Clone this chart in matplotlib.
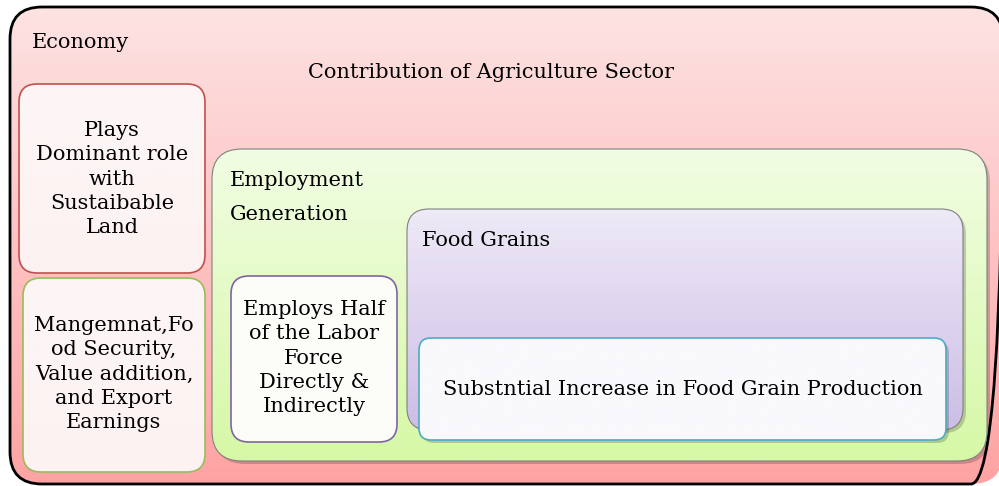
import numpy as np
import matplotlib.pyplot as plt
from matplotlib.patches import FancyBboxPatch
from matplotlib.colors import LinearSegmentedColormap
from matplotlib.transforms import Bbox

plt.rcParams['font.family'] = ['DejaVu Serif']

### TEXT CONTENT
outer_title = 'Economy'
outer_subtitle = 'Contribution of Agriculture Sector'
left_top_text = 'Plays\nDominant role\nwith\nSustaibable\nLand'
left_bottom_text = 'Mangemnat,Fo\nod Security,\nValue addition,\nand Export\nEarnings'
employ_title = ['Employment', 'Generation']
employ_text = 'Employs Half\nof the Labor\nForce\nDirectly &\nIndirectly'
grains_title = 'Food Grains'
grains_text = 'Substntial Increase in Food Grain Production'

FS = 15
LS = 1.35
W, H = 999, 486
CW = 1020  # draw on a wider canvas, crop to W when saving
fig = plt.figure(figsize=(CW/100, H/100), dpi=100)
ax = fig.add_axes([0, 0, 1, 1])
ax.set_xlim(0, CW)
ax.set_ylim(H, 0)
ax.axis('off')

def box(x0, y0, x1, y1, r, top, bottom, edge, lw=1.5, shadow=False, z=1):
    if shadow:
        sh = FancyBboxPatch((x0+3, y0+3), x1-x0, y1-y0,
                            boxstyle='round,pad=0,rounding_size=%d' % r,
                            fc='#00000030', ec='none', zorder=z)
        ax.add_patch(sh)
    p = FancyBboxPatch((x0, y0), x1-x0, y1-y0,
                       boxstyle='round,pad=0,rounding_size=%d' % r,
                       fc='none', ec=edge, lw=lw, zorder=z+0.2)
    ax.add_patch(p)
    cmap = LinearSegmentedColormap.from_list('g', [top, bottom])
    grad = np.linspace(0, 1, 256).reshape(-1, 1)
    im = ax.imshow(grad, cmap=cmap, extent=(x0, x1, y1, y0), aspect='auto',
                   zorder=z+0.1, interpolation='bilinear')
    im.set_clip_path(p)
    return p

### Outer Economy box
box(10, 7, 1003, 484, 32, '#fde3e3', '#ffa3a3', 'black', lw=2, z=1)
ax.set_xlim(0, CW)
ax.set_ylim(H, 0)
ax.text(32, 42, outer_title, fontsize=FS, va='center', ha='left', zorder=10)
ax.text(491, 73, outer_subtitle, fontsize=FS, va='center', ha='center', zorder=10)

### Left boxes
box(19, 84, 205, 273, 18, '#fdf6f6', '#fdf2f2', '#c0504d', lw=1.2, z=2)
ax.text(112, 179, left_top_text, fontsize=FS, va='center', ha='center',
        linespacing=LS, zorder=10)
box(23, 278, 205, 472, 18, '#fdf6f6', '#fdf2f2', '#9bbb59', lw=1.2, z=2)
ax.text(114, 374, left_bottom_text, fontsize=FS, va='center', ha='center',
        linespacing=LS, zorder=10)

### Employment box
box(212, 149, 987, 461, 30, '#f1fde3', '#d6f8a6', '#808080', lw=0.8, shadow=True, z=3)
ax.text(230, 180, employ_title[0], fontsize=FS, va='center', ha='left', zorder=10)
ax.text(230, 214, employ_title[1], fontsize=FS, va='center', ha='left', zorder=10)
box(231, 276, 397, 442, 18, '#fcfdf8', '#fcfdf8', '#8064a2', lw=1.2, z=4)
ax.text(314, 358, employ_text, fontsize=FS, va='center', ha='center',
        linespacing=LS, zorder=10)

### Food grains box
box(407, 209, 963, 430, 22, '#eeeaf7', '#cdbde6', '#808080', lw=0.8, shadow=True, z=5)
ax.text(422, 240, grains_title, fontsize=FS, va='center', ha='left', zorder=10)
box(419, 338, 946, 440, 12, '#f9f9fd', '#f9f9fd', '#4bacc6', lw=1.2, shadow=True, z=6)
ax.text(683, 389, grains_text, fontsize=FS, va='center', ha='center', zorder=10)

fig.savefig('out.png', dpi=100, bbox_inches=Bbox.from_bounds(0, 0, W/100, H/100))
